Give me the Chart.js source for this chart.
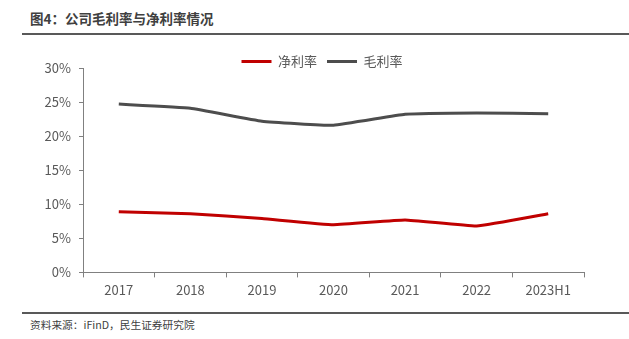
<!DOCTYPE html>
<html lang="zh-CN">
<head>
    <meta charset="UTF-8">
    <title>图4：公司毛利率与净利率情况</title>
    <script src="https://cdn.jsdelivr.net/npm/chart.js"></script>
    <style>
        body { margin: 0; background: #fff; font-family: "Noto Sans CJK SC", "Noto Sans", sans-serif; }
        .page { position: relative; width: 629px; height: 339px; overflow: hidden; }
        .title { position: absolute; left: 30px; top: 8px; font-size: 13.5px; font-weight: bold; color: #404040; }
        .rule { position: absolute; left: 22px; right: 0; height: 2px; background: #595959; }
        .source { position: absolute; left: 30px; top: 317px; font-size: 10.7px; color: #404040; }
        .chart-box { position: absolute; left: 0; top: 45px; width: 629px; height: 258px; }
    </style>
</head>
<body>
<div class="page">
    <div class="title">图4：公司毛利率与净利率情况</div>
    <div class="rule" style="top:33px"></div>
    <div class="chart-box"><canvas id="c"></canvas></div>
    <div class="rule" style="top:312px"></div>
    <div class="source">资料来源：iFinD，民生证券研究院</div>
</div>
<script>
    // 数据
    const years = ['2017', '2018', '2019', '2020', '2021', '2022', '2023H1'];
    const netMargin = [8.9, 8.6, 7.9, 7.0, 7.7, 6.8, 8.6];
    const grossMargin = [24.7, 24.1, 22.2, 21.6, 23.2, 23.4, 23.3];

    const textColor = '#595959';
    const axisColor = '#808080';
    const font = { family: '"Noto Sans CJK SC", sans-serif', size: 13 };

    // 固定图例高度并把图例移到图中间
    const legendFix = {
        id: 'legendFix',
        afterInit(chart) {
            const lg = chart.legend;
            const fit = lg.fit;
            lg.fit = function () { fit.call(this); this.height = 23; };
        },
        afterLayout(chart) {
            chart.legend.left += 30;
            chart.legend.right += 30;
        }
    };

    new Chart(document.getElementById('c'), {
        type: 'line',
        data: {
            labels: years,
            datasets: [
                { label: '净利率', data: netMargin, borderColor: '#C00000', backgroundColor: '#C00000', borderWidth: 3, pointRadius: 0, tension: 0.1 },
                { label: '毛利率', data: grossMargin, borderColor: '#4D4D4D', backgroundColor: '#4D4D4D', borderWidth: 3, pointRadius: 0, tension: 0.1 }
            ]
        },
        options: {
            responsive: true,
            maintainAspectRatio: false,
            animation: false,
            layout: { padding: { left: 0, right: 45, top: 0, bottom: 0 } },
            plugins: {
                legend: {
                    position: 'top',
                    labels: {
                        usePointStyle: true,
                        pointStyle: 'line',
                        pointStyleWidth: 30,
                        color: textColor,
                        font: font,
                        padding: 10,
                        boxHeight: 13
                    }
                },
                tooltip: { enabled: false }
            },
            scales: {
                x: {
                    offset: true,
                    grid: { drawOnChartArea: false, drawTicks: true, tickLength: 5, offset: true, color: axisColor },
                    border: { color: axisColor, width: 1 },
                    ticks: { color: textColor, font: font, padding: 5 }
                },
                y: {
                    min: 0,
                    max: 30,
                    grid: { drawOnChartArea: false, drawTicks: true, tickLength: 4, color: axisColor },
                    border: { color: axisColor, width: 1 },
                    ticks: { stepSize: 5, color: textColor, font: font, padding: 8, callback: v => v + '%' },
                    afterFit: s => { s.width = 83; }
                }
            }
        },
        plugins: [legendFix]
    });
</script>
</body>
</html>
